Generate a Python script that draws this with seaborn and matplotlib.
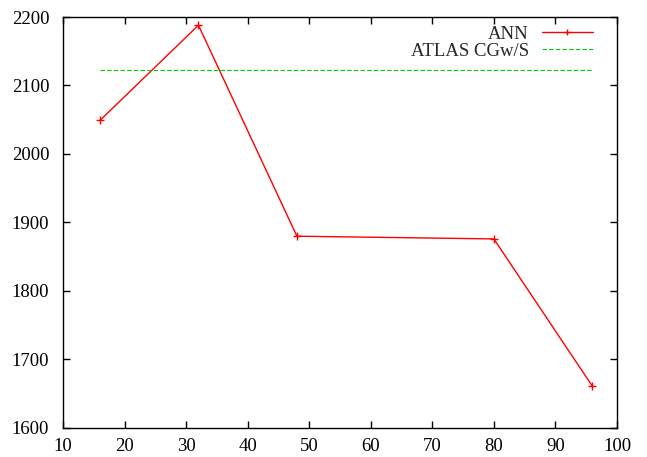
import matplotlib
matplotlib.use("Agg")
import matplotlib.pyplot as plt
import seaborn as sns
import pandas as pd

# ANN results against the ATLAS CGw/S reference level
ann_x = [16, 32, 48, 80, 96]
ann_y = [2049, 2188, 1880, 1876, 1661]
atlas_x = [16, 96]
atlas_y = [2123, 2123]

sns.set_style("ticks")
plt.rcParams["font.family"] = ["Liberation Serif", "DejaVu Serif"]
plt.rcParams["font.size"] = 13.5

fig = plt.figure(figsize=(6.47, 4.57), dpi=100)
ax = fig.add_axes([0.0974, 0.0635, 0.8562, 0.8993])

ann = pd.DataFrame({"x": ann_x, "y": ann_y})
atlas = pd.DataFrame({"x": atlas_x, "y": atlas_y})

sns.lineplot(data=ann, x="x", y="y", ax=ax, color="#ff0000", lw=1.0,
             marker="+", markersize=6, markeredgewidth=1.0,
             markeredgecolor="#ff0000", markerfacecolor="#ff0000", label="ANN")
sns.lineplot(data=atlas, x="x", y="y", ax=ax, color="#00cc00", lw=0.8,
             linestyle=(0, (4, 2)), label="ATLAS CGw/S")

ax.set_xlim(10, 100)
ax.set_ylim(1600, 2200)
ax.set_xticks(range(10, 101, 10))
ax.set_yticks(range(1600, 2201, 100))
ax.set_xlabel("")
ax.set_ylabel("")
ax.tick_params(direction="in", top=True, right=True, length=5, width=1,
               labelsize=13.5, colors="black")
ax.tick_params(axis="x", pad=7.5)
ax.tick_params(axis="y", pad=10)
for s in ax.spines.values():
    s.set_visible(True)
    s.set_color("black")
    s.set_linewidth(1.0)

leg = ax.legend(loc="upper right", bbox_to_anchor=(0.9634, 0.9884),
                frameon=False, markerfirst=False, fontsize=13.5,
                handlelength=2.72, borderaxespad=0.0, labelspacing=0.0,
                handletextpad=0.7, borderpad=0.2)
for h in leg.legend_handles:
    h.set_markersize(4)

fig.savefig("out.png", dpi=100)
